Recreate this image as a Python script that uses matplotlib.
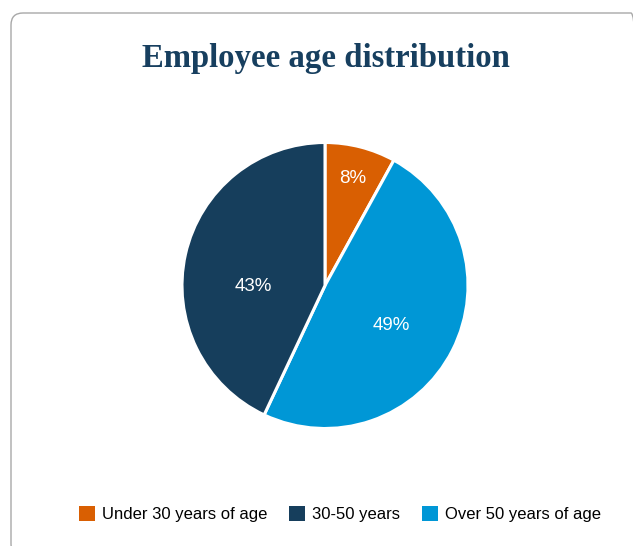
import matplotlib
matplotlib.use("Agg")
import matplotlib.pyplot as plt
import numpy as np
from matplotlib.patches import FancyBboxPatch, Patch

# age groups (legend order) and their share of staff in percent
categories = ["Under 30 years of age", "30-50 years", "Over 50 years of age"]
shares = [8, 43, 49]
colors = ["#d95f02", "#163e5c", "#0097d6"]

# slices go clockwise from 12 o'clock: under 30, over 50, then 30-50
pie_order = [0, 2, 1]

# where each percentage sits inside its slice (fraction of radius, angle nudge in deg, ccw)
label_radius = [0.77, 0.50, 0.54]
label_nudge = [0, 13.5, -4.5]

W, H = 633, 546
fig = plt.figure(figsize=(W / 100, H / 100), dpi=100)
fig.patch.set_facecolor("white")

# card outline, kept underneath the axes
card = FancyBboxPatch((11 / W, 1 - 556 / H), 632 / W, 543 / H,
                      boxstyle="round,pad=0,rounding_size=0.019",
                      transform=fig.transFigure, facecolor="none",
                      edgecolor="#a8a8a8", linewidth=1.0, mutation_aspect=W / H,
                      zorder=-1)
fig.patches.append(card)

fig.text(326 / W, 1 - 67 / H, "Employee age distribution",
         ha="center", va="baseline", fontsize=23.6, fontweight="bold",
         family="Liberation Serif", color="#173f5f")

# pie axes: center (325, 285.5) px, radius 143 px
cx, cy, r = 325, 285.5, 143
ax = fig.add_axes([(cx - r) / W, (H - cy - r) / H, 2 * r / W, 2 * r / H])
vals = [shares[i] for i in pie_order]
cols = [colors[i] for i in pie_order]
wedges, _ = ax.pie(vals, colors=cols, startangle=90, counterclock=False,
                   wedgeprops=dict(edgecolor="white", linewidth=2.2))
ax.set_xlim(-1, 1)
ax.set_ylim(-1, 1)
ax.set_aspect("equal")
ax.axis("off")

total = sum(vals)
start = 90.0
for k, i in enumerate(pie_order):
    span = 360.0 * vals[k] / total
    mid = start - span / 2 + label_nudge[i]
    start -= span
    a = np.deg2rad(mid)
    ax.text(label_radius[i] * np.cos(a), label_radius[i] * np.sin(a),
            f"{shares[i]}%", ha="center", va="center", color="white",
            fontsize=13.5, family="Liberation Sans")

handles = [Patch(facecolor=c, edgecolor="none") for c in colors]
fig.legend(handles, categories, loc="center", ncol=3,
           bbox_to_anchor=(340 / W, 1 - 514 / H), frameon=False,
           prop={"family": "Liberation Sans", "size": 12},
           handlelength=0.96, handleheight=0.96, handletextpad=0.42,
           columnspacing=1.32, borderaxespad=0, borderpad=0)

fig.savefig("out.png", dpi=100, facecolor="white")
